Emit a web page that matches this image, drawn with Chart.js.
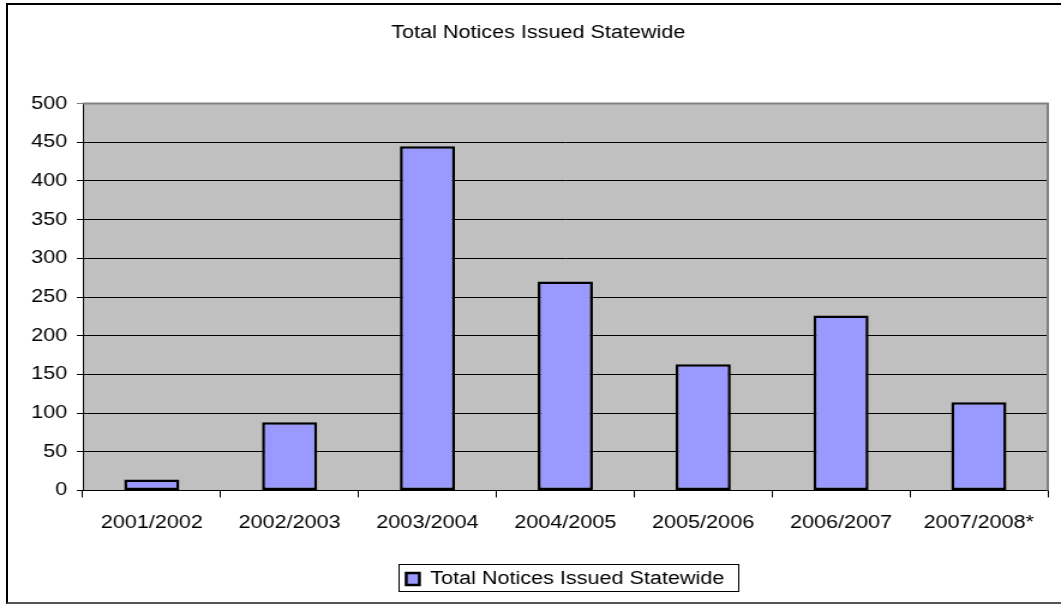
<!DOCTYPE html>
<html>
<head>
<meta charset="utf-8">
<script src="https://cdn.jsdelivr.net/npm/chart.js@4/dist/chart.umd.min.js"></script>
<style>
  html, body { margin: 0; padding: 0; background: #fff; overflow: hidden; }
  #wrap { position: relative; width: 1061px; height: 604px; overflow: hidden; }
  #frame {
    position: absolute; left: 6px; top: 3px; width: 1100px; height: 597px;
    border-left: 2px solid #000; border-top: 2px solid #000; border-bottom: 2px solid #555;
  }
  /* the chart is laid out at a narrower width and stretched horizontally */
  #c { position: absolute; left: 0; top: 0; transform: scaleX(1.2002); transform-origin: 0 0; }
</style>
</head>
<body>
<div id="wrap">
  <div id="frame"></div>
  <canvas id="c" width="884" height="604"></canvas>
</div>
<script>
// Season labels along the x axis
const categories = ['2001/2002', '2002/2003', '2003/2004', '2004/2005', '2005/2006', '2006/2007', '2007/2008*'];
// Notices issued per season
const noticesIssued = [14, 88, 445, 270, 163, 226, 114];
// Value axis range
const yMin = 0;
const yMax = 500;
const yStep = 50;

const chartTitle = 'Total Notices Issued Statewide';
const seriesName = 'Total Notices Issued Statewide';

const FONT = 'Liberation Sans, Arial, sans-serif';

// Grey plot background, grey top/right plot border and a frame around the legend
const plotDecor = {
  id: 'plotDecor',
  beforeDraw(chart) {
    const { ctx, chartArea: a } = chart;
    ctx.save();
    ctx.fillStyle = '#C0C0C0';
    ctx.fillRect(a.left, a.top, a.right - a.left, a.bottom - a.top);
    ctx.restore();
  },
  afterDraw(chart) {
    const { ctx, chartArea: a } = chart;
    ctx.save();
    ctx.strokeStyle = '#808080';
    ctx.lineWidth = 2;
    ctx.beginPath();
    ctx.moveTo(a.left, a.top);
    ctx.lineTo(a.right, a.top);
    ctx.lineTo(a.right, a.bottom);
    ctx.stroke();

    const hb = chart.legend && chart.legend.legendHitBoxes && chart.legend.legendHitBoxes[0];
    if (hb) {
      const cy = hb.top + hb.height / 2;
      const x1 = hb.left - 6, x2 = hb.left + hb.width + 12;
      const y1 = cy - 15, y2 = cy + 12;
      ctx.strokeStyle = '#000';
      ctx.lineWidth = 1;
      ctx.strokeRect(Math.round(x1) + 0.5, Math.round(y1) + 0.5, Math.round(x2 - x1), Math.round(y2 - y1));
    }
    ctx.restore();
  }
};

new Chart(document.getElementById('c'), {
  type: 'bar',
  data: {
    labels: categories,
    datasets: [{
      label: seriesName,
      data: noticesIssued,
      backgroundColor: '#9999FF',
      borderColor: '#000000',
      borderWidth: 2.5,
      borderSkipped: false,
      categoryPercentage: 1.0,
      barPercentage: 0.4
    }]
  },
  options: {
    responsive: false,
    animation: false,
    devicePixelRatio: 1,
    layout: { padding: { left: 24, right: 11, top: 0, bottom: 6 } },
    plugins: {
      title: {
        display: true,
        text: chartTitle,
        color: '#000',
        font: { family: FONT, size: 18, weight: 'normal' },
        padding: { top: 22, bottom: 60 }
      },
      legend: {
        display: true,
        position: 'bottom',
        fullSize: false,
        onClick: null,
        labels: {
          color: '#000',
          font: { family: FONT, size: 18 },
          boxWidth: 11,
          boxHeight: 12,
          padding: 21
        }
      },
      tooltip: { enabled: false }
    },
    scales: {
      x: {
        ticks: { color: '#000', font: { family: FONT, size: 18 }, padding: 15, maxRotation: 0, autoSkip: false },
        grid: { offset: true, drawOnChartArea: false, tickLength: 7, color: '#000', lineWidth: 1 },
        border: { color: '#000', width: 1 }
      },
      y: {
        min: yMin,
        max: yMax,
        ticks: { stepSize: yStep, color: '#000', font: { family: FONT, size: 18 }, padding: 8 },
        grid: {
          color: (c) => (c.tick && c.tick.value === yMax ? '#808080' : '#000'),
          lineWidth: 1,
          tickLength: 5
        },
        border: { color: '#000', width: 1 },
        afterFit(scale) { scale.width = 45; }
      }
    }
  },
  plugins: [plotDecor]
});
</script>
</body>
</html>
